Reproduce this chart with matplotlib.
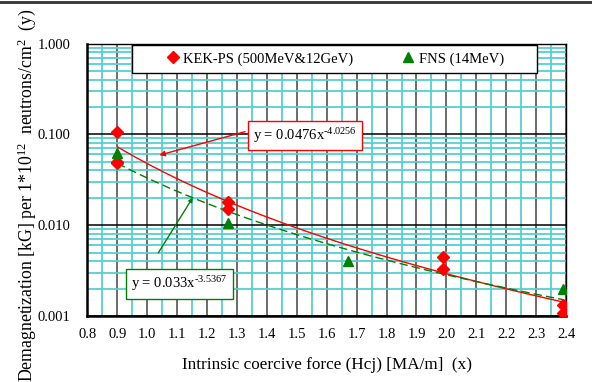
import numpy as np
import matplotlib.pyplot as plt
from matplotlib.lines import Line2D
from matplotlib.patches import Rectangle
from matplotlib.ticker import FixedLocator, FormatStrFormatter

plt.rcParams['font.family'] = ['Liberation Serif', 'DejaVu Serif']
plt.rcParams['mathtext.fontset'] = 'custom'
plt.rcParams['mathtext.rm'] = 'Liberation Serif'
plt.rcParams['mathtext.it'] = 'Liberation Serif'

# Measured demagnetization data
kek_hcj = [0.90, 0.90, 0.90, 1.27, 1.27, 1.99, 1.99, 2.39, 2.39]
kek_demag = [0.107, 0.050, 0.048, 0.018, 0.0149, 0.0045, 0.0033, 0.00132, 0.00109]

fns_hcj = [0.90, 1.27, 1.67, 2.39]
fns_demag = [0.062, 0.0106, 0.0040, 0.0020]

# Power-law trendlines y = a * x^b
kek_fit = (0.0476, -4.0256)
fns_fit = (0.033, -3.5367)

x_ticks = [0.8, 0.9, 1.0, 1.1, 1.2, 1.3, 1.4, 1.5, 1.6, 1.7, 1.8, 1.9, 2.0, 2.1, 2.2, 2.3, 2.4]
y_ticks = [0.001, 0.01, 0.1, 1.0]


def eq_label(a, b):
    # hyphen instead of the mathtext minus sign, like the Excel label
    return 'y = %gx$^{%s}$' % (a, ('%g' % b).replace('-', '\u2010'))


fig = plt.figure(figsize=(5.92, 3.82), dpi=100)
ax = fig.add_axes([0.1478, 0.1728, 0.8083, 0.7133])

ax.set_yscale('log')
ax.set_xlim(0.8, 2.4)
ax.set_ylim(0.001, 1.0)

# Excel-style grid: cyan minor lines, dark major lines
ax.xaxis.set_major_locator(FixedLocator(x_ticks))
ax.xaxis.set_minor_locator(FixedLocator([t + 0.05 for t in x_ticks[:-1]]))
ax.yaxis.set_major_locator(FixedLocator(y_ticks))
ax.xaxis.set_major_formatter(FormatStrFormatter('%.1f'))
ax.yaxis.set_major_formatter(FormatStrFormatter('%.3f'))
ax.yaxis.set_minor_formatter(plt.NullFormatter())
ax.grid(True, which='minor', color='#55d0d0', linewidth=1.3, zorder=0)
ax.grid(True, which='major', axis='x', color='#444444', linewidth=1.1, zorder=0)
ax.grid(True, which='major', axis='y', color='black', linewidth=1.1, zorder=0)
ax.set_axisbelow(True)
ax.tick_params(which='both', length=0, labelsize=10.5)
ax.tick_params(axis='x', pad=9)
ax.tick_params(axis='y', pad=12)
for s in ax.spines.values():
    s.set_linewidth(1.0)
ax.spines['left'].set_linewidth(1.8)
ax.spines['bottom'].set_linewidth(1.8)

# trendlines over the measured range
xs = np.linspace(min(kek_hcj), max(kek_hcj), 40)
ax.plot(xs, kek_fit[0] * xs ** kek_fit[1], color='red', linewidth=1.0, zorder=3)
xs = np.linspace(min(fns_hcj), max(fns_hcj), 40)
ax.plot(xs, fns_fit[0] * xs ** fns_fit[1], color='green', linewidth=1.0,
        dashes=(6, 3), zorder=3)

ax.plot(kek_hcj, kek_demag, linestyle='none', marker='D', markersize=6.3,
        color='red', label='KEK-PS (500MeV&12GeV)', zorder=4)
ax.plot(fns_hcj, fns_demag, linestyle='none', marker='^', markersize=7.5,
        color='green', label='FNS (14MeV)', zorder=4)

# legend: white box along the top, entries spread inside it
ax.add_patch(Rectangle((0.0924, 0.893), 0.8477, 0.1015, transform=ax.transAxes,
                       facecolor='white', edgecolor='black', linewidth=1.0, zorder=5))
ax.legend(loc='center', bbox_to_anchor=(0.166, 0.914, 0.704, 0.06),
          mode='expand', ncol=2, frameon=False, fontsize=10.5, handlelength=0.8,
          handletextpad=0.3, borderpad=0, borderaxespad=0).set_zorder(6)

# trendline equations with pointers
ax.text(1.526, 0.097, eq_label(*kek_fit), fontsize=10.5, ha='center', va='center',
        bbox=dict(boxstyle='square,pad=0.35', facecolor='white', edgecolor='red', linewidth=1.0),
        zorder=5)
ax.annotate('', xy=(1.04, 0.059), xytext=(1.327, 0.107),
            arrowprops=dict(arrowstyle='-|>', color='red', linewidth=1.0,
                            mutation_scale=8, shrinkA=0, shrinkB=0), zorder=5)

ax.text(1.107, 0.00225, eq_label(*fns_fit), fontsize=10.5, ha='center', va='center',
        bbox=dict(boxstyle='square,pad=0.35', facecolor='white', edgecolor='green', linewidth=1.0),
        zorder=5)
ax.annotate('', xy=(1.152, 0.0201), xytext=(1.037, 0.00497),
            arrowprops=dict(arrowstyle='-|>', color='green', linewidth=1.0,
                            mutation_scale=6, shrinkA=0, shrinkB=0), zorder=5)

ax.set_xlabel('Intrinsic coercive force (Hcj) [MA/m]  (x)', fontsize=12.3, labelpad=11)
fig.text(0.045, 0.49, r'Demagnetization [kG] per 1*10$^{12}$  neutrons/cm$^{2}$  (y)',
         rotation=90, ha='center', va='center', fontsize=12.8)

# frame line across the top of the figure
fig.add_artist(Line2D([0, 1], [0.996, 0.996], color='#333333', linewidth=2.0))

fig.savefig('out.png', dpi=100)
